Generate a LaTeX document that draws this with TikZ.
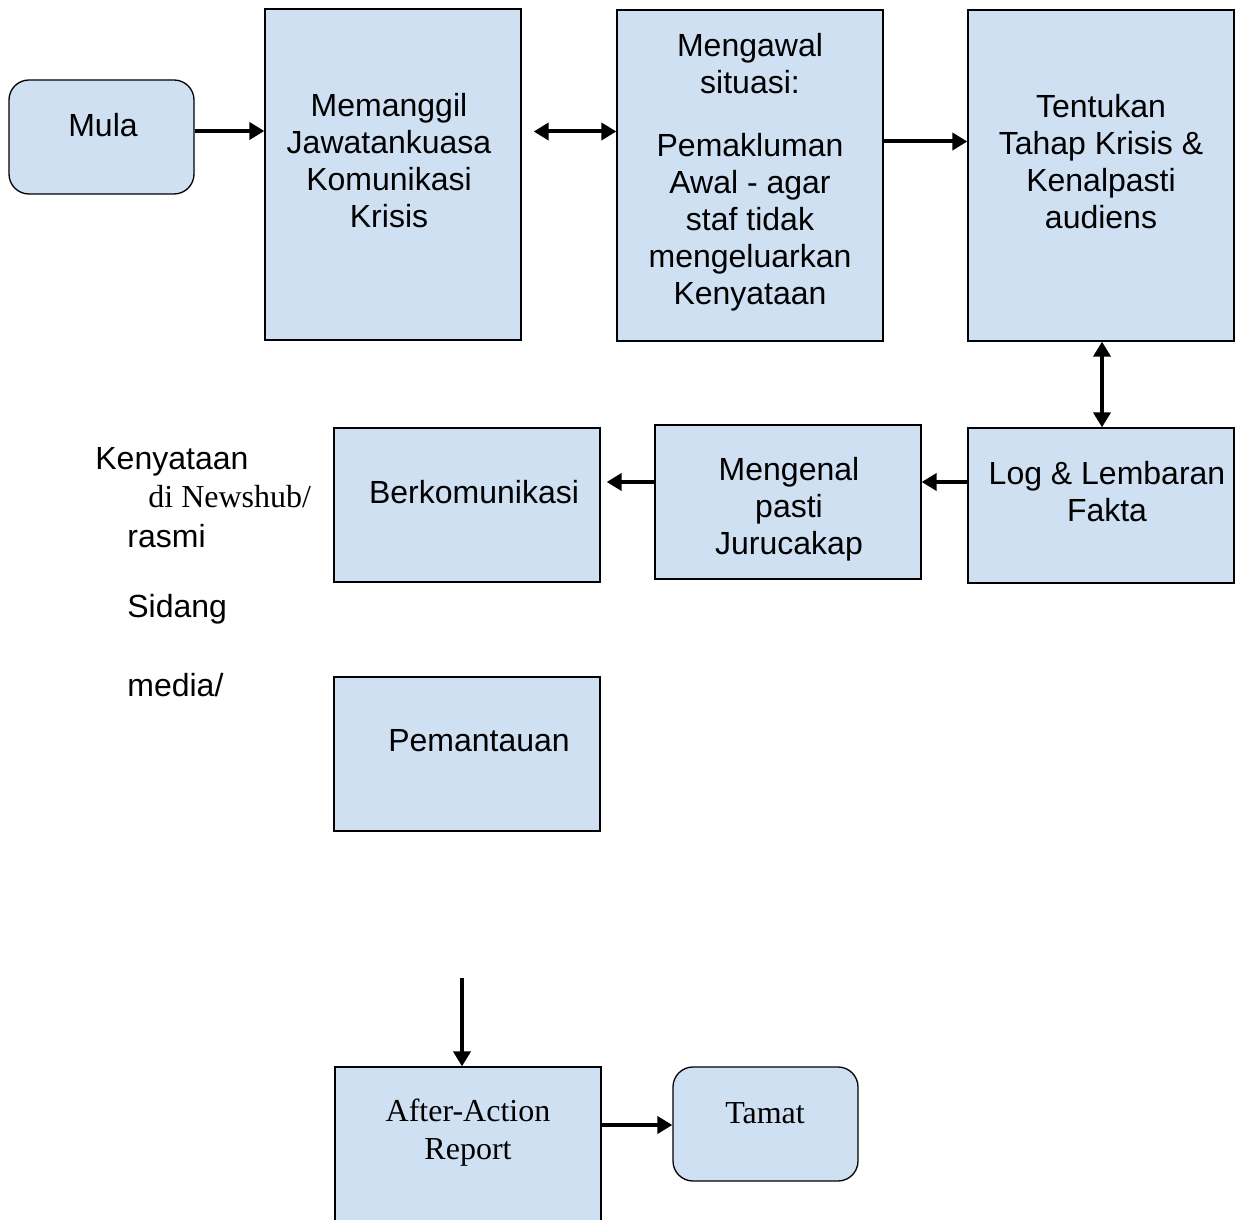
\documentclass[tikz,border=0pt]{standalone}
\usepackage{fontspec}
\setmainfont{Liberation Sans}
\newfontfamily\tnr{Liberation Serif}
\usetikzlibrary{arrows.meta}
\definecolor{kotak}{RGB}{207,224,242}

\begin{document}
\begin{tikzpicture}[x=0.5pt,y=-0.5pt,
  blok/.style={draw,fill=kotak,line width=0.65pt,inner sep=0pt},
  mulai/.style={blok,rounded corners=10pt},
  teks/.style={align=center,inner sep=0pt,font=\fontsize{16}{18.5}\selectfont},
  sisi/.style={anchor=west,inner sep=0pt,font=\fontsize{16}{18.5}\selectfont},
  panah/.style={line width=2pt,-{Triangle[length=7.5pt,width=8.5pt]}},
  dwipanah/.style={line width=2pt,{Triangle[length=7.5pt,width=8.5pt]}-{Triangle[length=7.5pt,width=8.5pt]}}]

\useasboundingbox (0,0) rectangle (1235,1219);

% Top row
\node[mulai,minimum width=92.5pt,minimum height=57pt] (mula) at (101.5,137) {};
\node[teks] (tmula) at (103,125) {Mula};

\node[blok,minimum width=128pt,minimum height=165.5pt] (memanggil) at (393,174.5) {};
\node[teks] (tmemanggil) at (389,160.5) {Memanggil\\Jawatankuasa\\Komunikasi\\Krisis};

\node[blok,minimum width=133pt,minimum height=165.5pt] (mengawal) at (750,175.5) {};
\node[teks] (tmengawal) at (750,172) {Mengawal\\situasi:\\[13pt]Pemakluman\\Awal - agar\\staf tidak\\mengeluarkan\\Kenyataan};

\node[blok,minimum width=133pt,minimum height=165.5pt] (tentukan) at (1101,175.5) {};
\node[teks] (ttentukan) at (1101,161.5) {Tentukan\\Tahap Krisis \&\\Kenalpasti\\audiens};

% Middle row
\node[blok,minimum width=133pt,minimum height=77.5pt] (log) at (1101,505.5) {};
\node[teks] (tlog) at (1107,492) {Log \& Lembaran\\Fakta};

\node[blok,minimum width=133pt,minimum height=77pt] (mengenal) at (788,502) {};
\node[teks] (tmengenal) at (789,509) {Mengenal\\pasti\\Jurucakap};

\node[blok,minimum width=133pt,minimum height=77pt] (berkom) at (467,505) {};
\node[teks] (tberkom) at (474,492) {Berkomunikasi};

\node[blok,minimum width=133pt,minimum height=77pt] (pantau) at (467,754) {};
\node[teks] (tpantau) at (479,741) {Pemantauan};

% Side text
\node[sisi] (s1) at (95,462) {Kenyataan};
\node[sisi,font=\tnr\fontsize{16}{18.5}\selectfont] (s2) at (148,497) {di Newshub/};
\node[sisi] (s3) at (127,536) {rasmi};
\node[sisi] (s4) at (127,609) {Sidang};
\node[sisi] (s5) at (127,685) {media/};

% Bottom row
\node[blok,minimum width=133pt,minimum height=80pt] (after) at (468,1147) {};
\node[teks,font=\tnr\fontsize{16}{19}\selectfont] (tafter) at (468,1133) {After-Action\\Report};

\node[mulai,minimum width=92.5pt,minimum height=57pt] (tamat) at (765.5,1124) {};
\node[teks,font=\tnr\fontsize{16}{19}\selectfont] (ttamat) at (765,1113) {Tamat};

% Arrows
\draw[panah] ([yshift=3pt]mula.east) -- ([yshift=3pt]mula.east -| memanggil.west);
\draw[dwipanah] ([xshift=6pt,yshift=21.5pt]memanggil.east) -- ([yshift=21.5pt]memanggil.east -| mengawal.west);
\draw[panah] ([yshift=17pt]mengawal.east) -- ([yshift=17pt]mengawal.east -| tentukan.west);
\draw[dwipanah] ([xshift=0.5pt]tentukan.south) -- ([xshift=0.5pt]log.north);
\draw[panah] ([yshift=11.75pt]log.west) -- ([yshift=11.75pt]log.west -| mengenal.east);
\draw[panah] ([yshift=10pt]mengenal.west) -- ([xshift=3pt,yshift=10pt]mengenal.west -| berkom.east);

\coordinate (atas) at (462,978);
\draw[panah] (atas) -- (atas |- after.north);
\draw[panah] ([yshift=11pt]after.east) -- ([yshift=11pt]after.east -| tamat.west);

\end{tikzpicture}
\end{document}
